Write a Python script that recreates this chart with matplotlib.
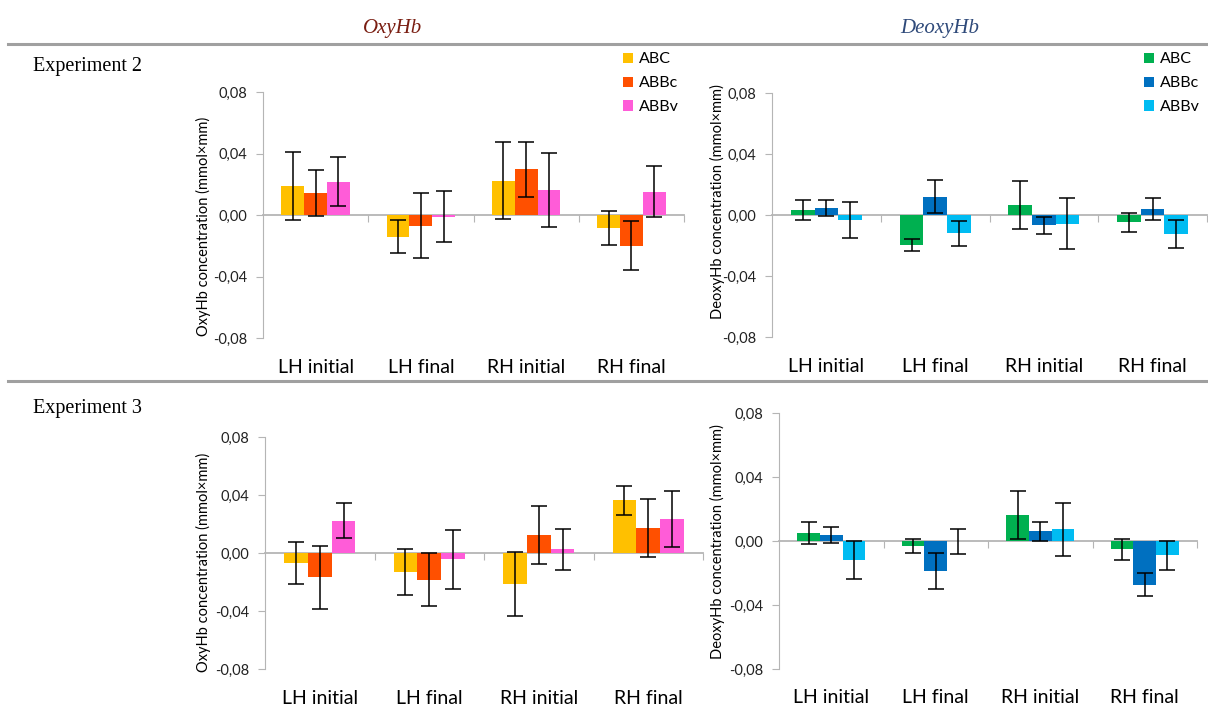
import numpy as np
import matplotlib
matplotlib.use("Agg")
import matplotlib.pyplot as plt
from matplotlib.patches import Patch

plt.rcParams['font.family'] = ['Lato', 'DejaVu Sans']

W, H = 1208, 723

categories = ['LH initial', 'LH final', 'RH initial', 'RH final']
conditions = ['ABC', 'ABBc', 'ABBv']

# Experiment 2
exp2_oxy = [[0.019, -0.014, 0.0223, -0.0086],
            [0.0143, -0.0069, 0.0298, -0.0199],
            [0.0216, -0.001, 0.0162, 0.0151]]
exp2_oxy_err = [[0.022, 0.011, 0.025, 0.011],
                [0.015, 0.0213, 0.018, 0.0158],
                [0.016, 0.0167, 0.024, 0.0165]]
exp2_deoxy = [[0.0033, -0.0198, 0.0066, -0.0048],
              [0.0044, 0.0121, -0.0068, 0.0037],
              [-0.0033, -0.0119, -0.0057, -0.0125]]
exp2_deoxy_err = [[0.0065, 0.004, 0.0155, 0.0063],
                  [0.0052, 0.011, 0.0056, 0.0073],
                  [0.012, 0.0081, 0.0168, 0.009]]

# Experiment 3
exp3_oxy = [[-0.0066, -0.0133, -0.0215, 0.0363],
            [-0.0167, -0.0183, 0.0126, 0.0174],
            [0.0224, -0.0043, 0.0025, 0.0235]]
exp3_oxy_err = [[0.0145, 0.016, 0.022, 0.0102],
                [0.0218, 0.0185, 0.020, 0.020],
                [0.012, 0.0205, 0.014, 0.0195]]
exp3_deoxy = [[0.0049, -0.0031, 0.0165, -0.0052],
              [0.0037, -0.0188, 0.006, -0.0274],
              [-0.012, -0.0003, 0.0074, -0.0089]]
exp3_deoxy_err = [[0.0067, 0.0041, 0.015, 0.0064],
                  [0.005, 0.011, 0.0059, 0.0071],
                  [0.012, 0.008, 0.0165, 0.009]]

oxy_colors = ['#FFC000', '#FF5000', '#FF5CD8']
deoxy_colors = ['#00B050', '#0070C0', '#00BCF2']

fig = plt.figure(figsize=(W / 100, H / 100), dpi=100)


def px_axes(l, t, r, b):
    return fig.add_axes([l / W, 1 - b / H, (r - l) / W, (b - t) / H])


def draw_panel(ax, vals, errs, colors, ylabel, label_x, label_y, cat_y):
    w = 0.217
    x = np.arange(len(categories)) + 0.5
    for j in range(3):
        ax.bar(x + (j - 1) * w, vals[j], width=w, color=colors[j],
               yerr=errs[j], capsize=5.5,
               error_kw=dict(ecolor='black', elinewidth=1.1, capthick=1.1),
               zorder=2)
    ax.set_xlim(0, 4)
    ax.set_ylim(-0.08, 0.08)
    ax.set_yticks([-0.08, -0.04, 0, 0.04, 0.08])
    ax.set_yticklabels(['-0,08', '-0,04', '0,00', '0,04', '0,08'])
    for s in ['top', 'right']:
        ax.spines[s].set_visible(False)
    ax.spines['left'].set_color('#B5B5B5')
    ax.spines['bottom'].set_position(('data', 0))
    ax.spines['bottom'].set_color('#B5B5B5')
    ax.spines['bottom'].set_linewidth(1.3)
    ax.spines['bottom'].set_zorder(1)
    ax.set_xticks([1, 2, 3, 4])
    ax.set_xticklabels([])
    ax.tick_params(axis='x', direction='out', length=5, color='#B5B5B5')
    ax.tick_params(axis='y', direction='out', length=5, color='#B5B5B5',
                   labelsize=10.5, pad=6, labelcolor='#222222')
    for i, c in enumerate(categories):
        ax.text(i + 0.5, cat_y, c, transform=ax.get_xaxis_transform(),
                ha='center', va='center', fontsize=14)
    fig.text(label_x / W, 1 - label_y / H, ylabel, rotation=90,
             ha='center', va='center', fontsize=10.5)
    ax.set_facecolor('none')


ax1 = px_axes(263, 92, 684, 338)
draw_panel(ax1, exp2_oxy, exp2_oxy_err, oxy_colors,
           'OxyHb concentration (mmol×mm)', 203, 226, -0.118)
ax2 = px_axes(772, 93, 1207, 337)
draw_panel(ax2, exp2_deoxy, exp2_deoxy_err, deoxy_colors,
           'DeoxyHb concentration (mmol×mm)', 717, 202, -0.12)
ax3 = px_axes(265, 437, 703, 669)
draw_panel(ax3, exp3_oxy, exp3_oxy_err, oxy_colors,
           'OxyHb concentration (mmol×mm)', 203, 562, -0.125)
ax4 = px_axes(779, 413, 1197, 669)
draw_panel(ax4, exp3_deoxy, exp3_deoxy_err, deoxy_colors,
           'DeoxyHb concentration (mmol×mm)', 717, 542, -0.11)

# legends
for colors, x0 in [(oxy_colors, 617), (deoxy_colors, 1138)]:
    patches = [Patch(facecolor=c) for c in colors]
    fig.legend(patches, conditions, loc='upper left',
               bbox_to_anchor=(x0 / W, 1 - 46 / H), frameon=False,
               fontsize=11.5, handlelength=0.6, handleheight=0.6,
               handletextpad=0.4, labelspacing=0.62, borderaxespad=0)

# column titles
fig.text(393 / W, 1 - 28 / H, 'OxyHb', ha='center', va='center',
         fontsize=15, style='italic', family='Liberation Serif', color='#7A1E12')
fig.text(940 / W, 1 - 28 / H, 'DeoxyHb', ha='center', va='center',
         fontsize=15, style='italic', family='Liberation Serif', color='#2F4A7A')

# separator lines
for yy in [44, 381]:
    fig.add_artist(plt.Line2D([8 / W, 1], [1 - yy / H, 1 - yy / H],
                              color='#A0A0A0', lw=2.2))

fig.text(33 / W, 1 - 67 / H, 'Experiment 2', ha='left', va='center',
         fontsize=14.5, family='Liberation Serif')
fig.text(33 / W, 1 - 408 / H, 'Experiment 3', ha='left', va='center',
         fontsize=14.5, family='Liberation Serif')

fig.savefig('out.png', dpi=100)
